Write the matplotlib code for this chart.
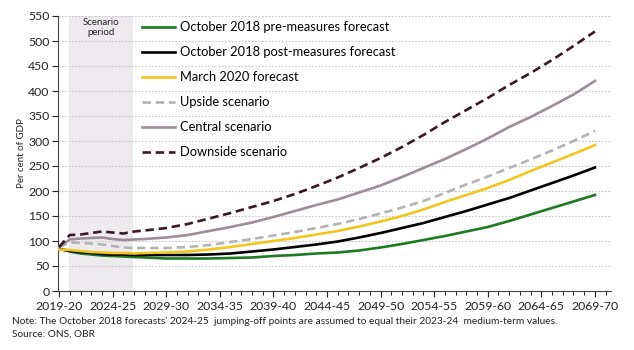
import matplotlib
matplotlib.use("Agg")
import matplotlib.pyplot as plt
from matplotlib.ticker import MultipleLocator

plt.rcParams['font.family'] = ['Lato', 'DejaVu Sans']

# ---- data (year index 0 = 2019-20) ----
tick_labels = ["2019-20", "2024-25", "2029-30", "2034-35", "2039-40", "2044-45",
               "2049-50", "2054-55", "2059-60", "2064-65", "2069-70"]
tick_pos = [0, 5, 10, 15, 20, 25, 30, 35, 40, 45, 50]

years = [0, 1, 2, 3, 4, 5, 6, 7, 8, 10, 12, 14, 16, 18, 20, 22, 24, 26, 28,
         30, 32, 34, 36, 38, 40, 42, 44, 46, 48, 50]

pre_measures = [85, 79, 75, 73, 71, 70, 69, 68, 67, 65, 65, 65, 66, 67, 70, 72,
                75, 77, 81, 87, 94, 102, 110, 119, 128, 140, 153, 166, 179, 192]
post_measures = [84, 80, 78, 76, 74, 73, 73, 72, 72, 72, 72, 73, 75, 79, 83, 88,
                 93, 99, 107, 116, 126, 136, 148, 160, 173, 186, 201, 216, 231, 247]
march_2020 = [83, 82, 80, 78, 77, 76, 76, 75, 76, 77, 79, 83, 88, 94, 100, 106,
              113, 120, 129, 139, 150, 163, 178, 192, 206, 222, 240, 257, 274, 292]
upside = [88, 97, 96, 95, 93, 90, 87, 86, 86, 86, 88, 92, 98, 104, 111, 118,
          126, 134, 144, 155, 167, 180, 196, 213, 229, 246, 263, 281, 300, 320]
central = [88, 103, 105, 106, 107, 104, 102, 103, 104, 107, 112, 120, 128, 137,
           148, 160, 172, 183, 197, 211, 228, 246, 264, 284, 305, 328, 348, 370,
           393, 420]
downside = [88, 112, 113, 116, 119, 117, 115, 119, 121, 126, 134, 145, 156, 168,
            180, 194, 210, 227, 246, 266, 288, 312, 338, 362, 386, 412, 436, 462,
            490, 519]

series_labels = ["October 2018 pre-measures forecast",
                 "October 2018 post-measures forecast",
                 "March 2020 forecast",
                 "Upside scenario",
                 "Central scenario",
                 "Downside scenario"]

scenario_start, scenario_end = 0.95, 6.9

# ---- figure ----
fig = plt.figure(figsize=(6.34, 3.5), dpi=100)
ax = fig.add_axes([58/634, 1-291/350, (611-58)/634, (291-16)/350])

ax.axvspan(scenario_start, scenario_end, color="#EEEBEE", zorder=0, lw=0)
ax.text((scenario_start+scenario_end)/2, 546, "Scenario\nperiod", ha="center",
        va="top", fontsize=7, color="#222222", linespacing=1.15)

for y in range(50, 551, 50):
    ax.axhline(y, color="#C8C8C8", lw=0.8, ls=(0, (1.5, 1.5)), zorder=1)

styles = [
    dict(color="#1E7A1E", lw=1.9),
    dict(color="#000000", lw=1.9),
    dict(color="#F2C51F", lw=1.9),
    dict(color="#B3B3B3", lw=1.9, dashes=(3.2, 1.8)),
    dict(color="#9D8C9A", lw=1.9),
    dict(color="#3A1828", lw=1.9, dashes=(3.2, 1.8)),
]
data = [pre_measures, post_measures, march_2020, upside, central, downside]
for vals, st, lab in zip(data, styles, series_labels):
    ax.plot(years, vals, label=lab, zorder=3, **st)

ax.set_xlim(-0.1, 51.5)
ax.set_ylim(0, 550)
ax.yaxis.set_major_locator(MultipleLocator(50))
ax.set_xticks(tick_pos)
ax.set_xticklabels(tick_labels)
ax.xaxis.set_minor_locator(MultipleLocator(1))
ax.tick_params(axis="both", labelsize=8.8, colors="#222222", direction="out")
ax.tick_params(axis="x", which="major", length=4, width=0.8, pad=3)
ax.tick_params(axis="x", which="minor", length=3, width=0.6)
ax.tick_params(axis="y", length=4, width=0.8, pad=2)
for s in ["top", "right"]:
    ax.spines[s].set_visible(False)
ax.spines["left"].set_color("#444444")
ax.spines["bottom"].set_color("#444444")
ax.set_ylabel("Per cent of GDP", fontsize=7, color="#222222", labelpad=2)

leg = ax.legend(loc="upper left", bbox_to_anchor=(0.143, 0.998), frameon=False,
                fontsize=9.3, labelspacing=1.0, handlelength=2.55,
                handletextpad=0.38, borderaxespad=0, borderpad=0.38)

fig.text(12/634, 1-322/350, "Note: The October 2018 forecasts' 2024-25  jumping-off points are assumed to equal their 2023-24  medium-term values.",
         fontsize=7.3, va="center", ha="left", color="#222222")
fig.text(12/634, 1-334/350, "Source: ONS, OBR", fontsize=7.3, va="center",
         ha="left", color="#222222")

fig.savefig("out.png", dpi=100)
